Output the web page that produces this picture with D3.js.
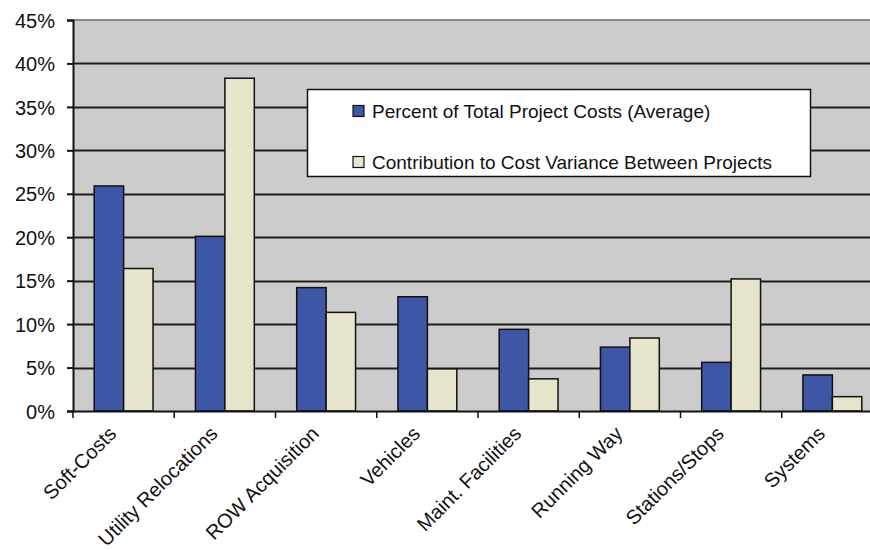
<!DOCTYPE html>
<html>

<head>
    <meta charset="utf-8">
    <title>Project cost breakdown</title>
    <script src="https://cdnjs.cloudflare.com/ajax/libs/d3/7.8.5/d3.min.js"></script>
    <style>
        body { margin: 0; background: #fff; }
        text { font-family: "Liberation Sans", Arial, sans-serif; fill: #111; }
    </style>
</head>

<body>
    <script>
        var categories = ['Soft-Costs', 'Utility Relocations', 'ROW Acquisition', 'Vehicles',
            'Maint. Facilities', 'Running Way', 'Stations/Stops', 'Systems'];
        var seriesNames = ['Percent of Total Project Costs (Average)',
            'Contribution to Cost Variance Between Projects'];
        var pctOfTotal = [25.9, 20.1, 14.2, 13.15, 9.4, 7.35, 5.6, 4.15];
        var varianceShare = [16.4, 38.3, 11.35, 4.85, 3.7, 8.4, 15.2, 1.65];
        var yTicks = [0, 5, 10, 15, 20, 25, 30, 35, 40, 45];
        var colors = ['#3d56a6', '#e6e5cb'];

        var width = 870,
            height = 551;
        var margin = { top: 20, left: 73, bottom: 140 };
        var plotRight = 883; // plot area runs a little past the page edge

        var svg = d3.select('body')
            .append('svg')
            .attr('width', width)
            .attr('height', height);

        var x = d3.scaleBand()
            .domain(categories)
            .range([margin.left, plotRight])
            .paddingInner(0)
            .paddingOuter(0);

        var x1 = d3.scaleBand()
            .domain([0, 1])
            .range([0, x.bandwidth()])
            .paddingInner(0)
            .paddingOuter(0.72);

        var y = d3.scaleLinear()
            .domain([0, 45])
            .range([height - margin.bottom, margin.top]);

        // plot background
        svg.append('rect')
            .attr('x', margin.left)
            .attr('y', y(45))
            .attr('width', plotRight - margin.left)
            .attr('height', y(0) - y(45))
            .attr('fill', '#cccccc');

        // horizontal gridlines
        svg.append('g')
            .selectAll('line')
            .data(yTicks.filter(function (d) { return d > 0 && d < 45; }))
            .enter()
            .append('line')
            .attr('x1', margin.left)
            .attr('x2', plotRight)
            .attr('y1', function (d) { return Math.round(y(d)) + 0.5; })
            .attr('y2', function (d) { return Math.round(y(d)) + 0.5; })
            .attr('stroke', '#1e1e1e')
            .attr('stroke-width', 2);

        // top border of the plot area
        svg.append('line')
            .attr('x1', margin.left)
            .attr('x2', plotRight)
            .attr('y1', y(45))
            .attr('y2', y(45))
            .attr('stroke', '#8c8c8c')
            .attr('stroke-width', 2);

        // bars
        var rows = categories.map(function (c, i) {
            return { cat: c, vals: [pctOfTotal[i], varianceShare[i]] };
        });

        var groups = svg.append('g')
            .selectAll('g')
            .data(rows)
            .enter()
            .append('g')
            .attr('transform', function (d) { return 'translate(' + x(d.cat) + ',0)'; });

        groups.selectAll('rect')
            .data(function (d) { return d.vals; })
            .enter()
            .append('rect')
            .attr('x', function (d, i) { return x1(i); })
            .attr('y', function (d) { return y(d); })
            .attr('width', x1.bandwidth())
            .attr('height', function (d) { return y(0) - y(d); })
            .attr('fill', function (d, i) { return colors[i]; })
            .attr('stroke', '#111')
            .attr('stroke-width', 1.5);

        // y axis
        var yAxis = svg.append('g')
            .attr('transform', 'translate(' + margin.left + ',0)')
            .call(d3.axisLeft(y)
                .tickValues(yTicks)
                .tickFormat(function (d) { return d + '%'; })
                .tickSize(6)
                .tickPadding(12));
        yAxis.select('.domain').attr('stroke', '#111').attr('stroke-width', 2);
        yAxis.selectAll('.tick line').attr('stroke', '#111').attr('stroke-width', 2);
        yAxis.selectAll('text')
            .style('font-size', '20px')
            .attr('dy', '0.36em');

        // x axis
        var xAxis = svg.append('g')
            .attr('transform', 'translate(0,' + y(0) + ')')
            .call(d3.axisBottom(x).tickSize(0).tickFormat(''));
        xAxis.select('.domain').attr('stroke', '#111').attr('stroke-width', 2);

        // category boundary ticks
        svg.append('g')
            .selectAll('line')
            .data(categories)
            .enter()
            .append('line')
            .attr('x1', function (d) { return x(d); })
            .attr('x2', function (d) { return x(d); })
            .attr('y1', y(0))
            .attr('y2', y(0) + 7)
            .attr('stroke', '#111')
            .attr('stroke-width', 1.5);

        // rotated category labels
        svg.append('g')
            .selectAll('text')
            .data(categories)
            .enter()
            .append('text')
            .attr('transform', function (d) {
                return 'translate(' + (x(d) + x.bandwidth() / 2 - 6) + ',' + (y(0) + 24) + ') rotate(-45)';
            })
            .attr('text-anchor', 'end')
            .style('font-size', '20px')
            .text(function (d) { return d; });

        // legend
        var legend = svg.append('g');
        legend.append('rect')
            .attr('x', 307.5)
            .attr('y', 89.5)
            .attr('width', 503)
            .attr('height', 87)
            .attr('fill', '#fff')
            .attr('stroke', '#111')
            .attr('stroke-width', 1.5);

        var items = legend.selectAll('g')
            .data(seriesNames)
            .enter()
            .append('g')
            .attr('transform', function (d, i) { return 'translate(353,' + (111 + i * 51) + ')'; });

        items.append('rect')
            .attr('x', 0)
            .attr('y', -5.5)
            .attr('width', 11)
            .attr('height', 11)
            .attr('fill', function (d, i) { return colors[i]; })
            .attr('stroke', '#111')
            .attr('stroke-width', 1.2);

        items.append('text')
            .attr('x', 19)
            .attr('dy', '0.36em')
            .style('font-size', '19px')
            .text(function (d) { return d; });
    </script>
</body>

</html>
